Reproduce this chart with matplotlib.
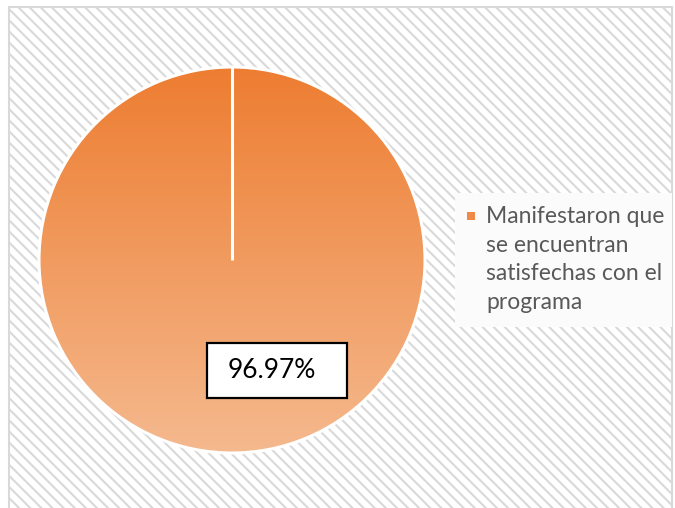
import numpy as np
import matplotlib
matplotlib.use("Agg")
import matplotlib.pyplot as plt
from matplotlib.patches import Rectangle
from matplotlib.colors import LinearSegmentedColormap

# data
categories = ["Manifestaron que\nse encuentran\nsatisfechas con el\nprograma"]
values = [96.97]
pct_labels = ["96.97%"]

W, H = 675, 508
plt.rcParams["font.family"] = ["Lato", "DejaVu Sans"]
plt.rcParams["hatch.linewidth"] = 1.5
plt.rcParams["hatch.color"] = "#e0e0e0"

fig = plt.figure(figsize=(W / 100, H / 100), dpi=100)
fig.patch.set_facecolor("white")

# striped chart background with thin grey border
bg = fig.add_axes([0, 0, 1, 1])
bg.set_xlim(0, W)
bg.set_ylim(H, 0)
bg.axis("off")
bg.add_patch(Rectangle((9, 7), 663, 510, facecolor="white", edgecolor="#d9d9d9",
                       hatch="\\\\\\", lw=1.5))
# legend area (plain white)
bg.add_patch(Rectangle((455, 193), 217, 134, facecolor="#fbfbfb", edgecolor="none"))

# pie
cx, cy, r = 232, 260, 193
ax = fig.add_axes([(cx - r) / W, 1 - (cy + r) / H, 2 * r / W, 2 * r / H])
start = 90
wedges, _ = ax.pie(values, startangle=start, counterclock=False, radius=1,
                   wedgeprops=dict(edgecolor="white", linewidth=2.2))
ax.set_xlim(-1.0, 1.0)
ax.set_ylim(-1.0, 1.0)
ax.set_aspect("equal")

# gradient fill clipped to the wedge
cmap = LinearSegmentedColormap.from_list("og", ["#f5b98e", "#ed7d31"])
grad = np.linspace(0, 1, 256).reshape(-1, 1)
for w in wedges:
    w.set_facecolor("none")
    im = ax.imshow(grad, cmap=cmap, extent=(-1, 1, -1, 1), origin="lower",
                   aspect="auto", zorder=0)
    im.set_clip_path(w)
    w.set_zorder(2)

# slice boundary from the centre (single wedge closes on itself)
a = np.deg2rad(start)
ax.plot([0, np.cos(a)], [0, np.sin(a)], color="white", lw=2.2, zorder=3,
        solid_capstyle="butt")

# percentage label in a fixed box, drawn on top of both axes
fig.add_artist(Rectangle((207, 343), 140, 55, facecolor="white", edgecolor="black",
                         lw=1.6, zorder=5, transform=bg.transData))
fig.text(272, 371, pct_labels[0], ha="center", va="center", fontsize=19,
         color="black", zorder=6, transform=bg.transData)

# legend
bg.add_patch(Rectangle((467, 212), 8, 8, facecolor="#ef8a48", edgecolor="none"))
bg.text(486, 206, categories[0], ha="left", va="top", fontsize=16.5,
        color="#595959", linespacing=1.45)

fig.savefig("out.png", dpi=100)
